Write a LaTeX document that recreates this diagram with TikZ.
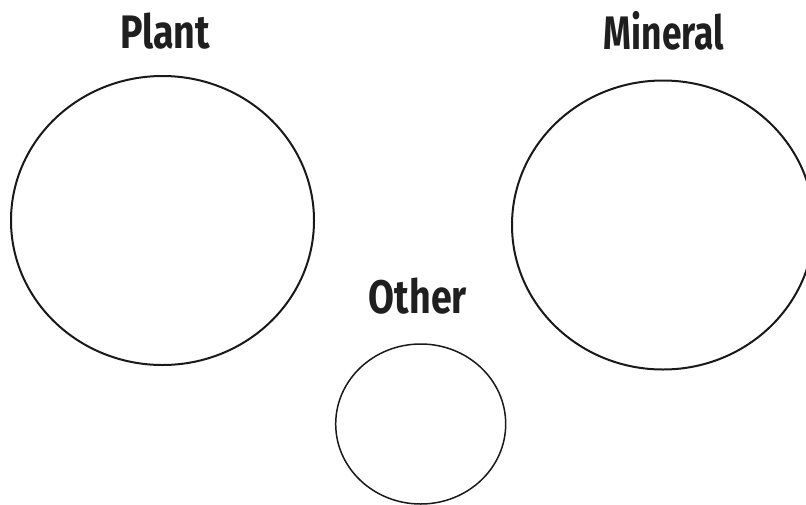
\documentclass[tikz,border=0pt]{standalone}
\usepackage{fontspec}
\setmainfont{Fira Sans}
\usetikzlibrary{shapes.geometric}
\begin{document}
\begin{tikzpicture}[x=1pt,y=-1pt,
  bigcirc/.style={draw=black!90, line width=2pt, ellipse, inner sep=0pt},
  smallcirc/.style={draw=black!90, line width=1.5pt, ellipse, inner sep=0pt},
  label/.style={font=\fontsize{47}{50}\selectfont\bfseries, text=black!88, inner sep=0pt, anchor=base, xscale=0.8}]
\useasboundingbox (0,0) rectangle (806,504);
\clip (0,0) rectangle (806,504);
\node[bigcirc, minimum width=303pt, minimum height=289pt] (plant) at (162.5,220.5) {};
\node[bigcirc, minimum width=302pt, minimum height=289pt] (mineral) at (663,225) {};
\node[smallcirc, minimum width=170pt, minimum height=160pt] (other) at (420.7,424) {};
\node[label] (tplant) at (165,48) {Plant};
\node[label, xscale=0.94] (tmineral) at (664,49) {Mineral};
\node[label] (tother) at (418,313) {Other};
\end{tikzpicture}
\end{document}
